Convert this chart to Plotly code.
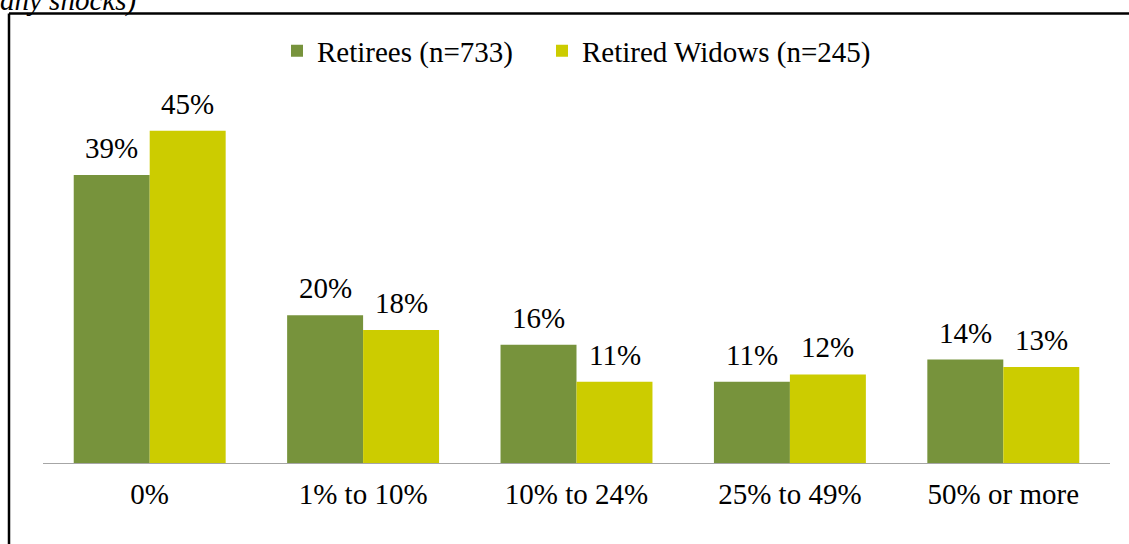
import plotly.graph_objects as go

categories = ["0%", "1% to 10%", "10% to 24%", "25% to 49%", "50% or more"]
retirees = [39, 20, 16, 11, 14]
widows = [45, 18, 11, 12, 13]
series_names = ["Retirees (n=733)", "Retired Widows (n=245)"]
colors = ["#77933C", "#CCCC00"]

W, H = 1129, 544
L, R = 43, 1129 - 1110
T = 80
BASE = 463
B = H - BASE
pw, ph = W - L - R, H - T - B
ymax = ph / 7.385

FONT = "'Liberation Serif', 'Times New Roman', Times, serif"
FS = 29

def px_x(x):  # page pixel -> paper
    return (x - L) / pw

def px_y(y):
    return (BASE - y) / ph

fig = go.Figure()
legend_ids = ["legend", "legend2"]
for name, vals, c, lg in zip(series_names, [retirees, widows], colors, legend_ids):
    fig.add_trace(go.Bar(x=categories, y=vals, name=name, marker_color=c,
                         marker_line_width=0, legend=lg))

ann = []
for vals, sh in [(retirees, -38), (widows, 38)]:
    for cat, v in zip(categories, vals):
        ann.append(dict(x=cat, y=v, xref="x", yref="y", text=f"{v}%", showarrow=False,
                        xshift=sh, yshift=9, yanchor="bottom",
                        font=dict(family=FONT, size=FS, color="black")))

ann.append(dict(x=px_x(-2), y=px_y(1), xref="paper", yref="paper", text="<i>any shocks)</i>",
                showarrow=False, xanchor="left", yanchor="middle",
                font=dict(family=FONT, size=FS, color="black")))

shapes = [
    dict(type="line", xref="paper", yref="paper", x0=px_x(9), x1=px_x(9), y0=px_y(13.5), y1=px_y(600),
         line=dict(color="black", width=2.5)),
    dict(type="line", xref="paper", yref="paper", x0=px_x(9), x1=px_x(1140), y0=px_y(13.5), y1=px_y(13.5),
         line=dict(color="black", width=2.5)),
]

def legend_at(xpx):
    return dict(orientation="h", x=px_x(xpx), xanchor="left", y=px_y(51), yanchor="middle",
                font=dict(family=FONT, size=FS, color="black"), itemwidth=30,
                bgcolor="rgba(0,0,0,0)")

fig.update_layout(
    width=W, height=H,
    margin=dict(l=L, r=R, t=T, b=B),
    paper_bgcolor="white", plot_bgcolor="white",
    barmode="group", bargap=0.288, bargroupgap=0,
    font=dict(family=FONT, size=FS, color="black"),
    showlegend=True,
    legend=legend_at(277),
    legend2=legend_at(542),
    annotations=ann,
    shapes=shapes,
    xaxis=dict(showline=True, linecolor="#A6A6A6", linewidth=1, ticks="", showgrid=False,
               ticklabelstandoff=5,
               tickfont=dict(family=FONT, size=FS, color="black")),
    yaxis=dict(range=[0, ymax], visible=False, showgrid=False, zeroline=False),
)

fig.write_html("out.html", config={"displayModeBar": False},
               post_script="document.body.style.margin='0';document.body.style.overflow='hidden';")
